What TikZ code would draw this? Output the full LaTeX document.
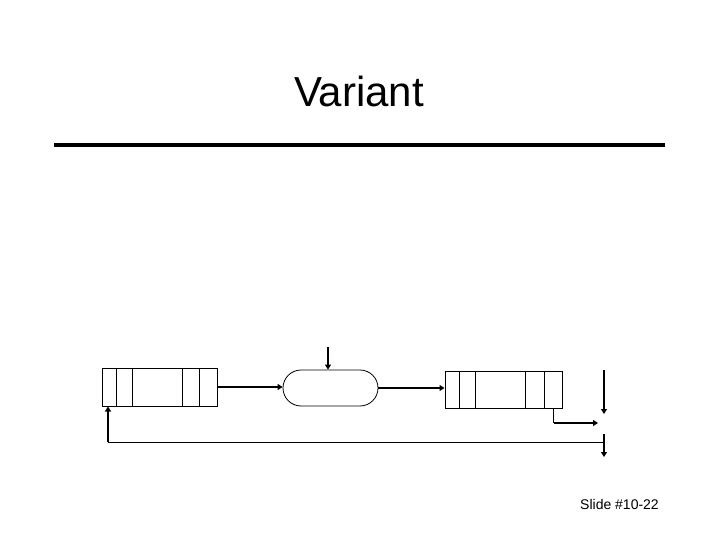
\documentclass[tikz,border=0pt]{standalone}
\usepackage{fontspec}
\setmainfont{Liberation Sans}
\usetikzlibrary{arrows.meta, positioning, calc}
\tikzset{
    queuebox/.style={
        rectangle, draw=black, line width=1pt, minimum width=115pt,
        minimum height=38pt, inner sep=0pt
    },
    termbox/.style={
        rectangle, rounded corners=18pt, draw=black, line width=0.8pt,
        minimum width=95pt, minimum height=36pt, inner sep=0pt
    },
    divider/.style={line width=1pt},
    arrow/.style={-{Triangle[length=5pt, width=6pt]}, line width=2pt},
    plain/.style={line width=1pt},
    title/.style={font=\fontsize{42}{48}\selectfont, anchor=base},
    footer/.style={font=\fontsize{14}{16}\selectfont, anchor=base},
}
\begin{document}
\begin{tikzpicture}[x=1pt, y=-1pt]
    \useasboundingbox (0,0) rectangle (720,540);

    \node[title] (heading) at (359,107) {Variant};
    \coordinate (ruleL) at (54,144.7);
    \coordinate (ruleR) at (665,144.7);
    \draw[line width=4pt] (ruleL) -- (ruleR);

    % queues and the server
    \node[queuebox] (qin) at (159.5,387) {};
    \node[termbox] (server) at (330.5,388) {};
    \node[queuebox, minimum width=117pt, minimum height=37pt] (qout) at (503.5,389.5) {};

    \foreach \dx in {15,31,81,98}
        \draw[divider] ($(qin.north west)+(\dx,0)$) -- ($(qin.south west)+(\dx,0)$);
    \foreach \dx in {15,31,81,100}
        \draw[divider] ($(qout.north west)+(\dx,0)$) -- ($(qout.south west)+(\dx,0)$);

    \coordinate (arrival) at (328,347);
    \coordinate (exitpt) at (598,423);
    \coordinate (qexit) at ($(qout.south east)+(-9,0)$);
    \coordinate (outtop) at (604,370);
    \coordinate (outbot) at (604,414);
    \coordinate (fbR) at (604,442);
    \coordinate (fbL) at (108,442);
    \coordinate (droptop) at (604,434);
    \coordinate (dropbot) at (604,457);

    \draw[arrow] (qin.east) -- (qin.east -| server.west);
    \draw[arrow] (arrival) -- (arrival |- server.north);
    \draw[arrow] (server.east) -- (server.east -| qout.west);
    \draw[plain] (qexit) -- (qexit |- exitpt);
    \draw[arrow] (qexit |- exitpt) -- (exitpt);
    \draw[arrow] (outtop) -- (outbot);
    \draw[plain] (fbR) -- (fbL);
    \draw[arrow] (fbL) -- (fbL |- qin.south);
    \draw[arrow] (droptop) -- (dropbot);

    \node[footer] (slideno) at (619.5,509) {Slide \#10-22};
\end{tikzpicture}
\end{document}
